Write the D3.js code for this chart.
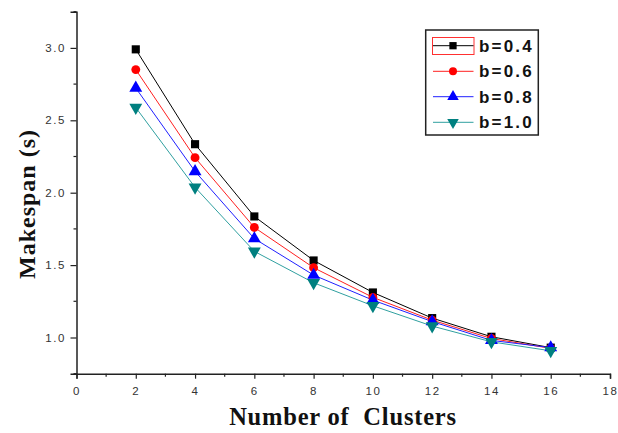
<!DOCTYPE html>
<html><head><meta charset="utf-8">
<script src="https://cdn.jsdelivr.net/npm/d3@7"></script>
<style>body{margin:0;background:#fff}</style>
</head><body>
<svg id="c" width="618" height="433"></svg>
<script>
const clusters = [2, 4, 6, 8, 10, 12, 14, 16];
const b04 = [2.99, 2.335, 1.836, 1.532, 1.311, 1.134, 1.005, 0.93];
const b06 = [2.85, 2.242, 1.76, 1.482, 1.277, 1.12, 0.993, 0.925];
const b08 = [2.723, 2.147, 1.683, 1.431, 1.258, 1.11, 0.98, 0.93];
const b10 = [2.588, 2.037, 1.595, 1.378, 1.219, 1.079, 0.97, 0.908];
const seriesNames = ["b=0.4", "b=0.6", "b=0.8", "b=1.0"];
const xTicks = [0, 2, 4, 6, 8, 10, 12, 14, 16, 18];
const yTicks = [1.0, 1.5, 2.0, 2.5, 3.0];

const series = [
  {name: seriesNames[0], vals: b04, color: "#000000", line: "#000000", sym: d3.symbolSquare, rot: 0},
  {name: seriesNames[1], vals: b06, color: "#ff0000", line: "#ff2020", sym: d3.symbolCircle, rot: 0},
  {name: seriesNames[2], vals: b08, color: "#0000ff", line: "#2020ff", sym: d3.symbolTriangle, rot: 0},
  {name: seriesNames[3], vals: b10, color: "#008080", line: "#30a0a0", sym: d3.symbolTriangle, rot: 180}
];
const symSize = s => s.sym === d3.symbolSquare ? 66 : s.sym === d3.symbolCircle ? 62 : 72;

const svg = d3.select("#c");
const x = d3.scaleLinear().domain([0, 18]).range([76.5, 610]);
const y = d3.scaleLinear().domain([0.75, 3.25]).range([373.7, 11.7]);

// axes
const xAxis = d3.axisBottom(x).tickValues(xTicks).tickFormat(d3.format("d")).tickSize(5).tickPadding(8);
const gx = svg.append("g").attr("transform", `translate(0,${y(0.75)})`).call(xAxis);
const yAxis = d3.axisLeft(y).tickValues(yTicks).tickFormat(d3.format(".1f")).tickSize(6).tickPadding(6);
const gy = svg.append("g").attr("transform", `translate(${x(0)},0)`).call(yAxis);
[gx, gy].forEach(g => {
  g.select(".domain").attr("stroke", "#222").attr("stroke-width", 1.5);
  g.selectAll(".tick line").attr("stroke", "#222").attr("stroke-width", 1.2);
  g.selectAll(".tick text").attr("fill", "#333")
    .style("font-family", "'Liberation Sans', Arial, sans-serif").style("font-size", "11.5px")
    .style("letter-spacing", "1.6px");
});
gy.selectAll(".tick text").attr("dx", "1.6px");
// minor ticks
const xMinor = d3.range(1, 18, 2);
svg.append("g").selectAll("line").data(xMinor).join("line")
  .attr("x1", d => x(d)).attr("x2", d => x(d))
  .attr("y1", y(0.75)).attr("y2", y(0.75) + 3).attr("stroke", "#222").attr("stroke-width", 1.2);
const yMinor = [0.75, 1.25, 1.75, 2.25, 2.75, 3.25];
svg.append("g").selectAll("line").data(yMinor).join("line")
  .attr("x1", x(0) - 3).attr("x2", x(0))
  .attr("y1", d => y(d)).attr("y2", d => y(d)).attr("stroke", "#222").attr("stroke-width", 1.2);

// lines & markers
const line = d3.line().x((d, i) => x(clusters[i])).y(d => y(d));
series.forEach(s => {
  svg.append("path").datum(s.vals).attr("d", line).attr("fill", "none")
    .attr("stroke", s.line).attr("stroke-width", 1);
});
series.forEach(s => {
  const sym = d3.symbol().type(s.sym).size(symSize(s));
  svg.append("g").selectAll("path").data(s.vals).join("path")
    .attr("d", sym)
    .attr("transform", (d, i) => `translate(${x(clusters[i])},${y(d)}) rotate(${s.rot})`)
    .attr("fill", s.color);
});

// legend
const lg = svg.append("g");
lg.append("rect").attr("x", 425.7).attr("y", 30).attr("width", 112.6).attr("height", 105)
  .attr("fill", "#fff").attr("stroke", "#222").attr("stroke-width", 1.5);
const rowY = [45.7, 71.3, 96.7, 122.3];
lg.append("rect").attr("x", 432.5).attr("y", 37.5).attr("width", 41.5).attr("height", 17)
  .attr("fill", "none").attr("stroke", "#ff3030").attr("stroke-width", 1);
series.forEach((s, i) => {
  lg.append("line").attr("x1", 433).attr("x2", 473.5).attr("y1", rowY[i]).attr("y2", rowY[i])
    .attr("stroke", s.line).attr("stroke-width", 1);
  lg.append("path").attr("d", d3.symbol().type(s.sym).size(symSize(s) * 0.8)())
    .attr("transform", `translate(453,${rowY[i]}) rotate(${s.rot})`).attr("fill", s.color);
  lg.append("text").attr("x", 479).attr("y", rowY[i]).attr("dy", "0.36em")
    .style("font-family", "'Liberation Sans', Arial, sans-serif").style("font-size", "17px")
    .style("letter-spacing", "2.2px")
    .style("font-weight", "bold").attr("fill", "#111").text(s.name);
});

// axis titles
svg.append("text").attr("x", 343).attr("y", 425).attr("text-anchor", "middle")
  .style("font-family", "'Liberation Serif', 'Times New Roman', serif").style("font-size", "24.5px")
  .style("letter-spacing", "0.8px")
  .style("font-weight", "bold").attr("fill", "#111").text("Number of\u00a0 Clusters");
svg.append("text").attr("transform", "translate(35,204) rotate(-90)").attr("text-anchor", "middle")
  .style("font-family", "'Liberation Serif', 'Times New Roman', serif").style("font-size", "24px")
  .style("letter-spacing", "1px")
  .style("font-weight", "bold").attr("fill", "#111").text("Makespan (s)");
</script>
</body></html>
